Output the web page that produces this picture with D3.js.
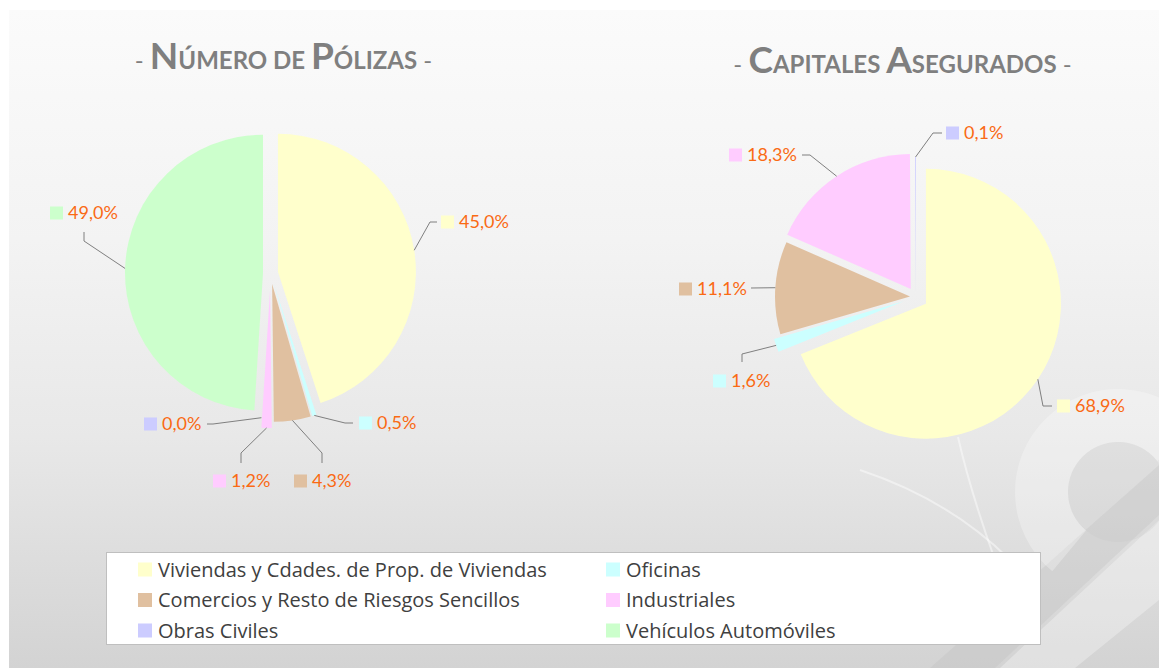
<!DOCTYPE html>
<html><head><meta charset="utf-8">
<script src="https://cdn.jsdelivr.net/npm/d3@7"></script>
<style>body{margin:0;background:#fff;} svg{display:block;font-family:Lato,'Open Sans',sans-serif;}</style>
</head><body><svg id="c" width="1159" height="668"></svg>
<script>
// ---- data ----
const categories = ["Viviendas y Cdades. de Prop. de Viviendas","Oficinas","Comercios y Resto de Riesgos Sencillos","Industriales","Obras Civiles","Vehículos Automóviles"];
const polizasValues = [45.0, 0.5, 4.3, 1.2, 0.0, 49.0];
const capitalesValues = [68.9, 1.6, 11.1, 18.3, 0.1, null];
const sliceColors = ["#ffffcc","#ccffff","#e0c0a0","#ffccff","#ccccff","#ccffcc"];
const titleParts1 = [["- ","dash"],["N","cap"],["ÚMERO DE ","sc"],["P","cap"],["ÓLIZAS","sc"],[" -","dash"]];
const titleParts2 = [["- ","dash"],["C","cap"],["APITALES ","sc"],["A","cap"],["SEGURADOS","sc"],[" -","dash"]];

// ---- layout ----
const pies = [
  {values: polizasValues, title: titleParts1, tx: 283.5, ty: 69,
   cx: 270.5, cy: 273, r: 138, explode: [7.5, 11, 11, 17, 7, 7.5],
   labels: [
     {mx: 170.5, my: -51, pts: [[159.5,-51],[166.5,-51]]},
     {mx: 88.5, my: 150, pts: [[74.5,150],[82.5,150]]},
     {mx: 23.5, my: 208, pts: [[51.5,180],[51.5,190]]},
     {mx: -57.5, my: 208, pts: [[-29.5,180],[-29.5,190]]},
     {mx: -126.5, my: 151, pts: [[-57.5,151],[-63.5,151]]},
     {mx: -220.5, my: -60, pts: [[-186.5,-32],[-186.5,-41]]}
   ]},
  {values: capitalesValues, title: titleParts2, tx: 902.5, ty: 73,
   cx: 916, cy: 297, r: 135, explode: [12, 13, 6, 9.5, 5, 0],
   labels: [
     {mx: 141, my: 109, pts: [[127,109],[136,109]]},
     {mx: -203, my: 84, pts: [[-174,57],[-174,65]]},
     {mx: -237, my: -8, pts: [[-165,-9]]},
     {mx: -187, my: -142, pts: [[-106,-142],[-114,-142]]},
     {mx: 30, my: -164, pts: [[17,-164],[26,-164]]},
     null
   ]}
];

const svg = d3.select("#c");
const defs = svg.append("defs");
const g = defs.append("linearGradient").attr("id","bg").attr("x1",0).attr("y1",0).attr("x2",0).attr("y2",1);
[[0,"#fbfbfb"],[0.35,"#f3f3f3"],[0.65,"#e8e8e8"],[1,"#d3d3d3"]].forEach(([o,c])=>g.append("stop").attr("offset",o).attr("stop-color",c));
svg.append("rect").attr("x",9).attr("y",10).attr("width",1150).attr("height",658).attr("fill","url(#bg)");

// watermark decoration
const wm = svg.append("g");
wm.append("path").attr("d","M 1000 668 L 1159 520 L 1159 600 L 1075 668 Z").attr("fill","#ffffff").attr("opacity",0.3);
wm.append("path").attr("d","M 930 668 L 1159 465 L 1159 515 L 995 668 Z").attr("fill","#bdbdbd").attr("opacity",0.3);
wm.append("path").attr("transform","translate(1118,492)")
  .attr("d", d3.arc().innerRadius(50).outerRadius(103).startAngle(-2.45).endAngle(0.9)())
  .attr("fill","#ffffff").attr("opacity",0.28);
wm.append("circle").attr("cx",1118).attr("cy",492).attr("r",50).attr("fill","#c4c4c4").attr("opacity",0.22);
wm.append("path").attr("d","M 860 470 Q 950 500 1010 560").attr("fill","none").attr("stroke","#fff").attr("stroke-width",2).attr("opacity",0.45);
wm.append("path").attr("d","M 958 437 Q 970 490 995 560").attr("fill","none").attr("stroke","#fff").attr("stroke-width",2).attr("opacity",0.45);

const pieGen = d3.pie().sort(null).value(d => d.v == null ? 0 : d.v);
const fmt = v => v.toFixed(1).replace(".", ",") + "%";

pies.forEach(p => {
  const arcs = pieGen(p.values.map((v,i)=>({v,i})));
  const arcGen = d3.arc().innerRadius(0).outerRadius(p.r);
  const grp = svg.append("g");
  arcs.forEach((a,i) => {
    const mid = (a.startAngle + a.endAngle)/2;
    const ex = p.explode[i];
    const ox = p.cx + ex*Math.sin(mid), oy = p.cy - ex*Math.cos(mid);
    if (a.endAngle > a.startAngle) {
      grp.append("path").attr("d", arcGen(a)).attr("transform",`translate(${ox},${oy})`).attr("fill", sliceColors[i]);
    }
    const lab = p.labels[i];
    if (!lab || a.data.v == null) return;
    const start = [ox + p.r*Math.sin(mid), oy - p.r*Math.cos(mid)];
    const pts = [start].concat(lab.pts.map(q=>[p.cx+q[0], p.cy+q[1]]));
    grp.append("path").attr("d", d3.line()(pts)).attr("fill","none").attr("stroke","#7f7f7f").attr("stroke-width",1);
    grp.append("rect").attr("x", p.cx+lab.mx).attr("y", p.cy+lab.my-6.5).attr("width",13).attr("height",13).attr("fill", sliceColors[i]);
    grp.append("text").attr("x", p.cx+lab.mx+18).attr("y", p.cy+lab.my).attr("dy","0.35em")
      .attr("fill","#fa6a14").attr("font-size",18).text(fmt(a.data.v));
  });
  const t = svg.append("text").attr("x",p.tx).attr("y",p.ty).attr("text-anchor","middle").attr("fill","#7f7f7f");
  p.title.forEach(([s,k]) => {
    t.append("tspan").attr("font-size", k==="cap"?37:24).attr("font-weight", k==="dash"?400:700).text(s);
  });
});

// legend
const lg = svg.append("g");
lg.append("rect").attr("x",106.5).attr("y",552.5).attr("width",934).attr("height",92).attr("fill","#fff").attr("stroke","#bfbfbf");
const colX = [138, 606], rowY = [569.5, 600, 630.5];
categories.forEach((c,i) => {
  const x = colX[i%2], y = rowY[Math.floor(i/2)];
  lg.append("rect").attr("x",x).attr("y",y-7).attr("width",14).attr("height",14).attr("fill",sliceColors[i]);
  lg.append("text").attr("x",x+20).attr("y",y).attr("dy","0.35em").attr("font-family","'Open Sans',sans-serif")
    .attr("font-size",20).attr("fill","#404040").text(c);
});
</script></body></html>
